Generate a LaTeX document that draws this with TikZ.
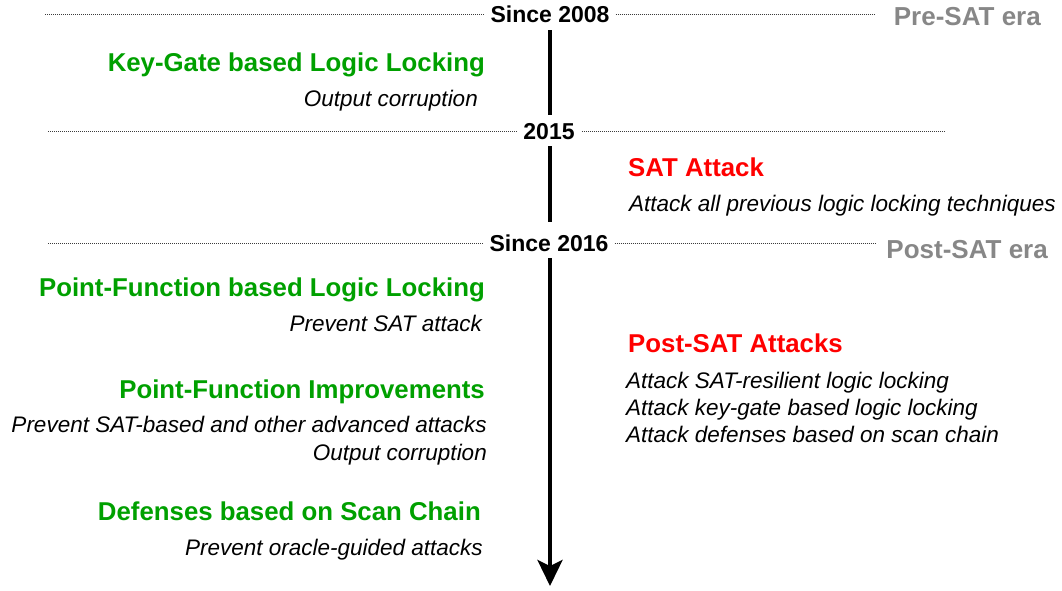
\documentclass[tikz,border=0pt]{standalone}
\usepackage{fontspec}
\setmainfont{Liberation Sans}
\usetikzlibrary{arrows.meta}
\definecolor{lgreen}{RGB}{0,160,0}
\definecolor{lred}{RGB}{255,0,0}
\definecolor{lgray}{RGB}{135,135,135}
\definecolor{dotc}{RGB}{60,60,60}
\tikzset{
  txt/.style={inner sep=0pt, text height=0.72em, text depth=0pt, yshift=-5pt},
  datebox/.style={txt, font=\fontsize{23}{27}\selectfont\bfseries, text=black},
  erabox/.style={txt, font=\fontsize{26}{30}\selectfont\bfseries, text=lgray},
  goodhead/.style={txt, font=\fontsize{25.8}{30}\selectfont\bfseries, text=lgreen},
  badhead/.style={txt, font=\fontsize{25.8}{30}\selectfont\bfseries, text=lred},
  desc/.style={txt, font=\fontsize{22.5}{27}\selectfont\itshape, text=black},
  dotline/.style={draw=dotc, line width=0.8pt, dash pattern=on 0.8pt off 1.2pt},
  axis/.style={draw=black, line width=4pt}
}
\begin{document}
\begin{tikzpicture}[x=1pt,y=-1pt]
\useasboundingbox (0,0) rectangle (1062,590);
% dates
\node[datebox] (d1) at (550,14) {Since 2008};
\node[datebox] (d2) at (549,131) {2015};
\node[datebox] (d3) at (549,243) {Since 2016};
\node[erabox, anchor=east] (e1) at (1041,17) {Pre-SAT era};
\node[erabox, anchor=east] (e2) at (1048,250) {Post-SAT era};
% dotted lines
\coordinate (l1a) at (45,14); \coordinate (l1b) at (875,14);
\coordinate (l2a) at (48,131); \coordinate (l2b) at (945,131);
\coordinate (l3a) at (48,243); \coordinate (l3b) at (875,243);
\draw[dotline] (l1a) -- ([xshift=-6pt]d1.west |- l1a);
\draw[dotline] ([xshift=6pt]d1.east |- l1b) -- (l1b);
\draw[dotline] (l2a) -- ([xshift=-7pt]d2.west |- l2a);
\draw[dotline] ([xshift=7pt]d2.east |- l2b) -- (l2b);
\draw[dotline] (l3a) -- ([xshift=-6pt]d3.west |- l3a);
\draw[dotline] ([xshift=6pt]d3.east |- l3b) -- (l3b);
% axis
\coordinate (a1) at (550,30); \coordinate (a2) at (550,115);
\coordinate (b1) at (550,146); \coordinate (b2) at (550,222);
\coordinate (c1) at (550,258); \coordinate (c2) at (550,586);
\draw[axis] (a1) -- (a2);
\draw[axis] (b1) -- (b2);
\draw[axis, -{Stealth[length=26pt,width=25pt,inset=6pt]}] (c1) -- (c2);
% left side
\node[goodhead, anchor=east] (g1) at (485,63) {Key-Gate based Logic Locking};
\node[desc, anchor=east] (g1d) at (478,98) {Output corruption};
\node[goodhead, anchor=east] (g2) at (485,288) {Point-Function based Logic Locking};
\node[desc, anchor=east] (g2d) at (482,323) {Prevent SAT attack};
\node[goodhead, anchor=east] (g3) at (485,390) {Point-Function Improvements};
\node[desc, anchor=east] (g3d) at (487,424) {Prevent SAT-based and other advanced attacks};
\node[desc, anchor=east] (g3e) at (487,452) {Output corruption};
\node[goodhead, anchor=east] (g4) at (481,512) {Defenses based on Scan Chain};
\node[desc, anchor=east] (g4d) at (483,547) {Prevent oracle-guided attacks};
% right side
\node[badhead, anchor=west] (r1) at (628,168) {SAT Attack};
\node[desc, anchor=west] (r1d) at (629,203) {Attack all previous logic locking techniques};
\node[badhead, anchor=west] (r2) at (628,344) {Post-SAT Attacks};
\node[desc, anchor=west] (r2a) at (626,380) {Attack SAT-resilient logic locking};
\node[desc, anchor=west] (r2b) at (626,407) {Attack key-gate based logic locking};
\node[desc, anchor=west] (r2c) at (626,434) {Attack defenses based on scan chain};
\end{tikzpicture}
\end{document}
